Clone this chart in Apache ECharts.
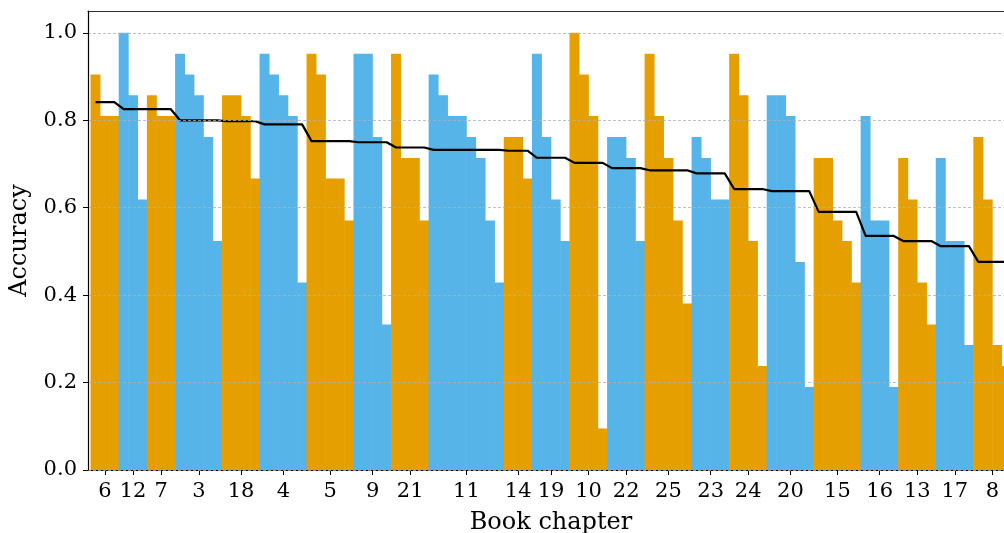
<!DOCTYPE html>
<html>
<head>
<meta charset="utf-8" />
<title>Accuracy by book chapter</title>
<style>
  html, body { margin: 0; padding: 0; background: #fff; }
  #main { width: 1004px; height: 533px; }
</style>
</head>
<body>
<div id="main"></div>
<script src="https://cdn.jsdelivr.net/npm/echarts@6/dist/echarts.min.js"></script>
<script>
// chapters in plotted order (sorted by mean accuracy)
const chapters = ['6', '12', '7', '3', '18', '4', '5', '9', '21', '11', '14', '19',
  '10', '22', '25', '23', '24', '20', '15', '16', '13', '17', '8'];

// per-question accuracy inside each chapter, same order as chapters
const scores = [
  [0.905, 0.810, 0.810],
  [1.000, 0.857, 0.619],
  [0.857, 0.810, 0.810],
  [0.952, 0.905, 0.857, 0.762, 0.524],
  [0.857, 0.857, 0.810, 0.667],
  [0.952, 0.905, 0.857, 0.810, 0.429],
  [0.952, 0.905, 0.667, 0.667, 0.571],
  [0.952, 0.952, 0.762, 0.333],
  [0.952, 0.714, 0.714, 0.571],
  [0.905, 0.857, 0.810, 0.810, 0.762, 0.714, 0.571, 0.429],
  [0.762, 0.762, 0.667],
  [0.952, 0.762, 0.619, 0.524],
  [1.000, 0.905, 0.810, 0.095],
  [0.762, 0.762, 0.714, 0.524],
  [0.952, 0.810, 0.714, 0.571, 0.381],
  [0.762, 0.714, 0.619, 0.619],
  [0.952, 0.857, 0.524, 0.238],
  [0.857, 0.857, 0.810, 0.476, 0.190],
  [0.714, 0.714, 0.571, 0.524, 0.429],
  [0.810, 0.571, 0.571, 0.190],
  [0.714, 0.619, 0.429, 0.333],
  [0.714, 0.524, 0.524, 0.286],
  [0.762, 0.619, 0.286, 0.238]
];

const colors = ['#E69F00', '#56B4E9'];
const yTicks = [0, 0.2, 0.4, 0.6, 0.8, 1.0];
const font = 'DejaVu Serif';

// flatten into one bar per question, plus chapter mean for the black line
const bars = [];
const means = [];
const tickPos = [];
const tickLabel = {};
let idx = 0;
scores.forEach((vals, c) => {
  const m = vals.reduce((a, b) => a + b, 0) / vals.length;
  const center = idx + (vals.length - 1) / 2;
  tickPos.push(center);
  tickLabel[center] = chapters[c];
  const col = colors[c % 2];
  vals.forEach(v => {
    bars.push({ value: [idx, v], itemStyle: { color: col } });
    means.push([idx, m]);
    idx++;
  });
});

const xMin = -0.8, xMax = idx - 1 + 0.8;

const chart = echarts.init(document.getElementById('main'));
chart.setOption({
  animation: false,
  // plot runs past the right edge of the picture, like the cropped original
  grid: { left: 88, width: 926, top: 11, bottom: 63, outerBoundsMode: 'none', containLabel: false },
  xAxis: [{
    type: 'value', min: xMin, max: xMax, position: 'bottom',
    name: 'Book chapter', nameLocation: 'middle', nameGap: 41,
    nameTextStyle: { fontFamily: font, fontSize: 24, color: '#000' },
    axisLine: { onZero: false, lineStyle: { color: '#000', width: 1.2 } },
    axisTick: { show: true, length: 5, customValues: tickPos, lineStyle: { color: '#000' } },
    axisLabel: {
      customValues: tickPos, margin: 11,
      fontFamily: font, fontSize: 21, color: '#000',
      formatter: v => tickLabel[v] || ''
    },
    splitLine: { show: false }
  }, {
    type: 'value', min: xMin, max: xMax, position: 'top',
    axisLine: { show: true, onZero: false, lineStyle: { color: '#333', width: 1.2 } },
    axisTick: { show: false }, axisLabel: { show: false }, splitLine: { show: false }
  }],
  yAxis: {
    type: 'value', min: 0, max: 1.05, z: 5,
    name: 'Accuracy', nameLocation: 'middle', nameGap: 56, nameRotate: 90,
    nameTextStyle: { fontFamily: font, fontSize: 24, color: '#000' },
    axisLine: { show: true, onZero: false, lineStyle: { color: '#000', width: 1.2 } },
    axisTick: { show: true, length: 5, customValues: yTicks, lineStyle: { color: '#000' } },
    axisLabel: {
      customValues: yTicks, margin: 11,
      fontFamily: font, fontSize: 21, color: '#000',
      formatter: v => v.toFixed(1)
    },
    splitLine: { show: true, lineStyle: { color: '#b0b0b0', type: [3, 2], width: 0.8 } }
  },
  series: [{
    type: 'bar',
    xAxisIndex: 0,
    data: bars,
    barWidth: '106%',
    z: 2
  }, {
    type: 'line',
    xAxisIndex: 0,
    data: means,
    symbol: 'none',
    lineStyle: { color: '#000', width: 2.2 },
    z: 4
  }]
});
</script>
</body>
</html>
